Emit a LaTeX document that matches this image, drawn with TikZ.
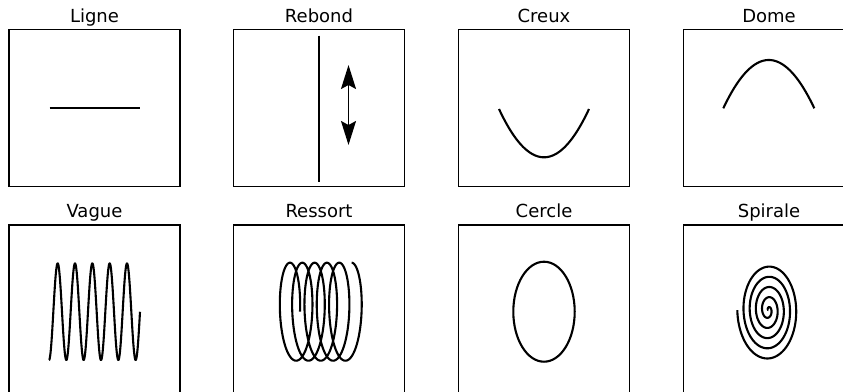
\documentclass[tikz,border=0pt]{standalone}
\usepackage{fontspec}
\setmainfont{DejaVu Sans}
\usetikzlibrary{arrows.meta}
\begin{document}
\begin{tikzpicture}[x=1pt,y=-1pt,
  frame/.style={line width=1.3pt},
  curve/.style={line width=2.1pt, line join=round},
  ttl/.style={anchor=base, font=\fontsize{18}{21}\selectfont, inner sep=0pt},
  myhead/.tip={Stealth[length=24pt,width=15pt,inset=4pt]}]
\useasboundingbox (0,0) rectangle (843,391);
\clip (0,0) rectangle (843,391);
% frames
\draw[frame] (9,29.3) rectangle (180,186.7);
\draw[frame] (233.5,29.3) rectangle (404.5,186.7);
\draw[frame] (458.5,29.3) rectangle (629.5,186.7);
\draw[frame] (683.5,29.3) rectangle (854.5,186.7);
\draw[frame] (9,225) rectangle (180,398);
\draw[frame] (233.5,225) rectangle (404.5,398);
\draw[frame] (458.5,225) rectangle (629.5,398);
\draw[frame] (683.5,225) rectangle (854.5,398);
% titles
\node[ttl] (tligne) at (94.5,22.5) {Ligne};
\node[ttl] (trebond) at (319,22.5) {Rebond};
\node[ttl] (tcreux) at (544,22.5) {Creux};
\node[ttl] (tdome) at (769,22.5) {Dome};
\node[ttl] (tvague) at (94.5,217) {Vague};
\node[ttl] (tressort) at (319,217) {Ressort};
\node[ttl] (tcercle) at (544,217) {Cercle};
\node[ttl] (tspirale) at (769,217) {Spirale};
% Ligne
\draw[curve] (49.5,108) -- (139.5,108);
% Rebond
\draw[curve] (319.2,35.7) -- (319.2,182.3);
\coordinate (atop) at (348.5,65);
\coordinate (abot) at (348.5,145);
\draw[line width=1.5pt, myhead-myhead] (atop) -- (abot);
% Creux
\draw[curve] plot[domain=-45:45, samples=100] ({544+\x}, {157.3-48.3*(\x/45)^2});
% Dome
\draw[curve] plot[domain=-45.5:45.5, samples=100] ({768.8+\x}, {60+48.3*(\x/45.5)^2});
% Vague
\draw[curve] plot[domain=0:91, samples=500] ({49+\x}, {311.7+48.3*cos(20.76923*\x)});
% Ressort
\draw[curve] plot[domain=0:32.9867, samples=800] ({286.9+1.96*\x+13.1*cos(\x r)}, {311.7-49*sin(\x r)});
% Cercle
\draw[curve] (544,311.7) ellipse [x radius=30.7pt, y radius=50pt];
% Spirale
\draw[curve] plot[domain=0:31.4159, samples=900] ({768.3-31*(\x/31.4159)*cos(\x r)}, {310-51*(\x/31.4159)*sin(\x r)});
\end{tikzpicture}
\end{document}
